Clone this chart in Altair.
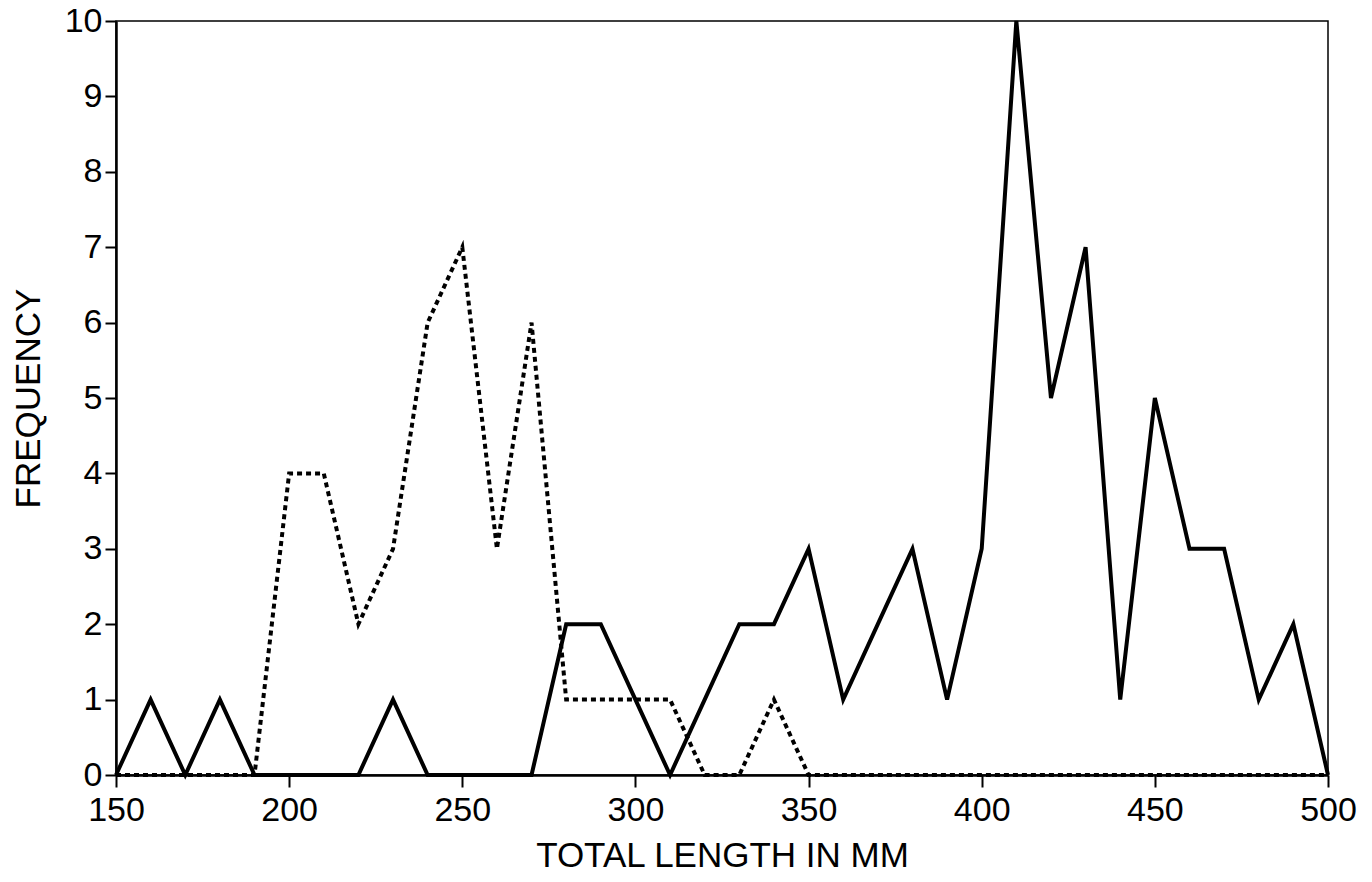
import altair as alt
import pandas as pd

lengths = [150, 160, 170, 180, 190, 200, 210, 220, 230, 240, 250, 260, 270, 280,
           290, 300, 310, 320, 330, 340, 350, 360, 370, 380, 390, 400, 410, 420,
           430, 440, 450, 460, 470, 480, 490, 500]
solid_freq = [0, 1, 0, 1, 0, 0, 0, 0, 1, 0, 0, 0, 0, 2,
              2, 1, 0, 1, 2, 2, 3, 1, 2, 3, 1, 3, 10, 5,
              7, 1, 5, 3, 3, 1, 2, 0]
dotted_freq = [0, 0, 0, 0, 0, 4, 4, 2, 3, 6, 7, 3, 6, 1,
               1, 1, 1, 0, 0, 1, 0, 0, 0, 0, 0, 0, 0, 0,
               0, 0, 0, 0, 0, 0, 0, 0]
x_ticks = [150, 200, 250, 300, 350, 400, 450, 500]
y_ticks = list(range(0, 11))

df_solid = pd.DataFrame({"length": lengths, "freq": solid_freq})
df_dot = pd.DataFrame({"length": lengths, "freq": dotted_freq})

FONT = "Liberation Sans"
W, H = 1212, 754

x_enc = alt.X("length:Q",
              scale=alt.Scale(domain=[150, 500], nice=False, zero=False),
              axis=alt.Axis(values=x_ticks, title="TOTAL LENGTH IN MM",
                            grid=False, labelFlush=False, labelOverlap=False,
                            tickSize=12, tickWidth=2, domainWidth=2.5,
                            domainColor="black", tickColor="black",
                            labelPadding=6, labelFontSize=34, labelFont=FONT,
                            labelColor="black", titleFont=FONT, titleFontSize=35,
                            titleFontWeight="normal", titleColor="black",
                            titleX=W / 2, titleY=80, titleBaseline="middle"))
y_enc = alt.Y("freq:Q",
              scale=alt.Scale(domain=[0, 10], nice=False),
              axis=alt.Axis(values=y_ticks, title="FREQUENCY",
                            grid=False, labelFlush=False, labelOverlap=False,
                            tickSize=11, tickWidth=2, domainWidth=2.5,
                            domainColor="black", tickColor="black",
                            labelPadding=3, labelFontSize=34, labelFont=FONT,
                            labelColor="black", titleFont=FONT, titleFontSize=35,
                            titleFontWeight="normal", titleColor="black",
                            titleX=-88, titleY=H / 2, titleAngle=-90,
                            titleAlign="center", titleBaseline="middle"))

dotted = alt.Chart(df_dot).mark_line(
    color="black", strokeWidth=4, strokeDash=[5, 4]
).encode(x=x_enc, y=y_enc)

solid = alt.Chart(df_solid).mark_line(
    color="black", strokeWidth=4
).encode(x=x_enc, y=y_enc)

chart = alt.layer(dotted, solid).properties(
    width=W, height=H,
    autosize=alt.AutoSizeParams(type="none"),
    padding={"left": 108, "top": 13, "right": 36, "bottom": 98},
    background="white",
).configure_view(stroke="black", strokeWidth=1.5)

chart.save("out.html", embed_options={"renderer": "svg", "actions": False})
